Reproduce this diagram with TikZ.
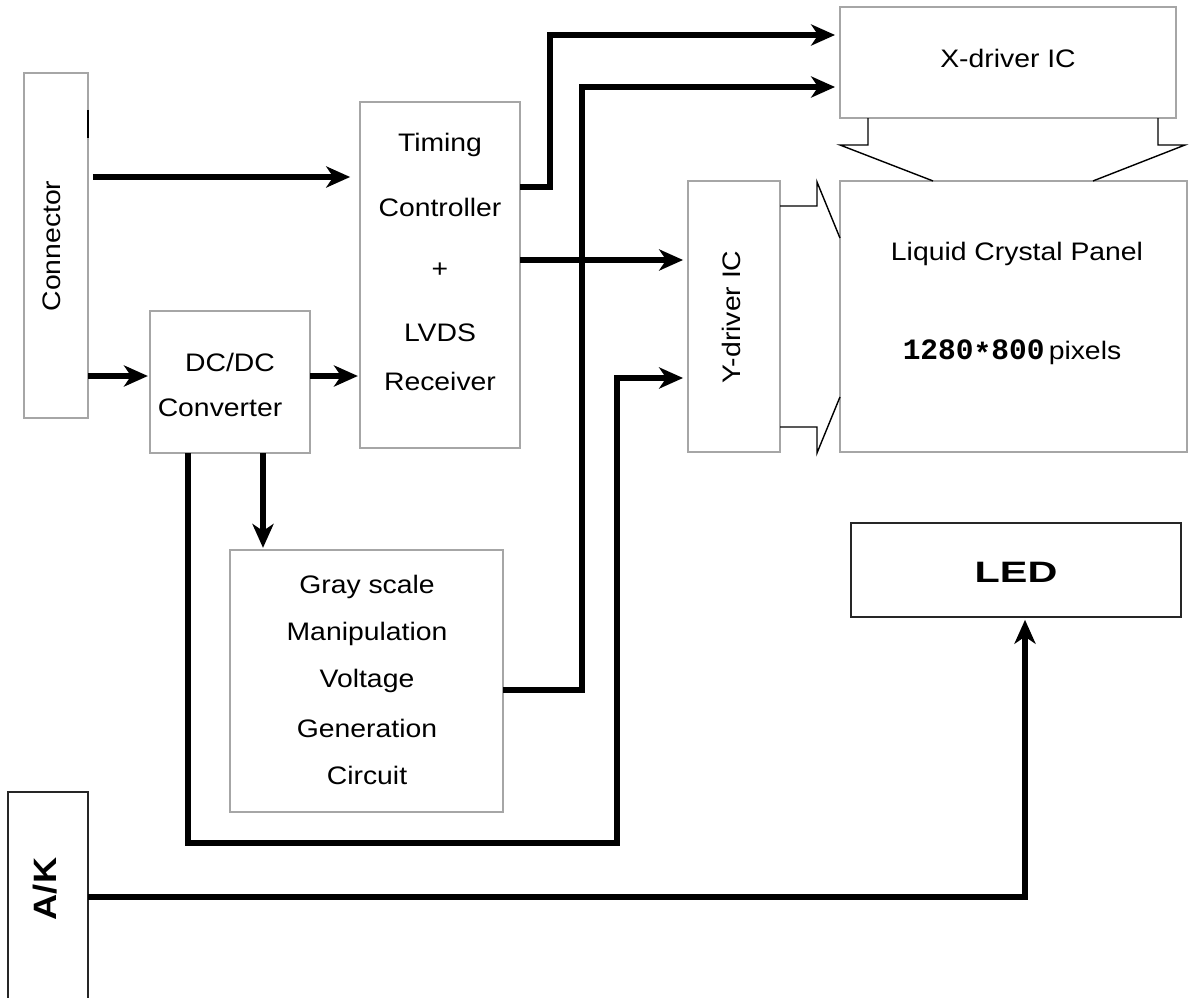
\documentclass[tikz,border=0pt]{standalone}
\usepackage{fontspec}
\setmainfont{Liberation Sans}[FakeStretch=1.12]
\newfontfamily\pixfont{Liberation Mono}
\usetikzlibrary{arrows.meta}

\tikzset{
  blk/.style={draw=gray!70, line width=1.1pt, inner sep=0pt, outer sep=0pt},
  darkblk/.style={draw=black!85, line width=1pt, inner sep=0pt, outer sep=0pt},
  txt/.style={inner sep=0pt, font=\fontsize{18pt}{22pt}\selectfont},
  sig/.style={line width=4.2pt, -{Stealth[length=17pt,width=15pt,inset=5pt]}},
  lead/.style={line width=1pt}
}

\begin{document}
\begin{tikzpicture}[x=0.025cm, y=-0.025cm]
  \useasboundingbox (0,0) rectangle (1189,998);

  %blocos
  \node[blk, minimum width=1.6cm, minimum height=8.625cm] (conn) at (56,245.5) {};
  \node[blk, minimum width=4cm, minimum height=8.65cm] (tcon) at (440,275) {};
  \node[blk, minimum width=4cm, minimum height=3.55cm] (dcdc) at (230,382) {};
  \node[blk, minimum width=6.825cm, minimum height=6.55cm] (gray) at (366.5,681) {};
  \node[blk, minimum width=8.4cm, minimum height=2.775cm] (xdrv) at (1008,62.5) {};
  \node[blk, minimum width=2.3cm, minimum height=6.775cm] (ydrv) at (734,316.5) {};
  \node[blk, minimum width=8.675cm, minimum height=6.775cm] (panel) at (1013.5,316.5) {};
  \node[darkblk, minimum width=8.25cm, minimum height=2.35cm] (led) at (1016,570) {};
  \node[darkblk, minimum width=2cm, minimum height=5.3cm] (ak) at (48,898) {};

  %textos
  \node[txt, rotate=90] (connT) at (52,246) {Connector};
  \node[txt] (tconA) at (440,145) {Timing};
  \node[txt] (tconB) at (440,207) {Controller};
  \node[txt] (tconC) at (440,270) {+};
  \node[txt] (tconD) at (440,333) {LVDS};
  \node[txt] (tconE) at (440,381) {Receiver};
  \node[txt] (dcdcA) at (230,362) {DC/DC};
  \node[txt] (dcdcB) at (220,408) {Converter};
  \node[txt] (grayA) at (367,587) {Gray scale};
  \node[txt] (grayB) at (367,634) {Manipulation};
  \node[txt] (grayC) at (367,681) {Voltage};
  \node[txt] (grayD) at (367,728) {Generation};
  \node[txt] (grayE) at (367,775) {Circuit};
  \node[txt] (xdrvT) at (1008,58) {X-driver IC};
  \node[txt, rotate=90] (ydrvT) at (731,317) {Y-driver IC};
  \node[txt] (panelA) at (1017,254) {Liquid Crystal Panel};
  \node[txt] (panelB) at (1012,352) {{\pixfont\bfseries\fontsize{21pt}{22pt}\selectfont 1280\raisebox{-0.3ex}{*}800}\,pixels};
  \node[txt, font=\fontsize{21pt}{24pt}\selectfont\bfseries\addfontfeature{FakeStretch=1.4}] (ledT) at (1016,572) {LED};
  \node[txt, rotate=90, font=\fontsize{23pt}{26pt}\selectfont\bfseries] (akT) at (45,889) {A/K};

  %marca no conector
  \draw[line width=1.5pt] (conn.east |- 0,110) -- (conn.east |- 0,138);

  %ligacoes driver -> painel
  \draw[lead] (868,0 |- xdrv.south) -- (868,145) -- (840,145) -- (933,0 |- panel.north);
  \draw[lead] (1158,0 |- xdrv.south) -- (1158,145) -- (1185,145) -- (1093,0 |- panel.north);
  \draw[lead] (ydrv.east |- 0,206) -- (817,206) -- (817,182) -- (panel.west |- 0,238);
  \draw[lead] (ydrv.east |- 0,427) -- (817,427) -- (817,453) -- (panel.west |- 0,397);

  %setas
  \draw[sig, shorten <=3.5pt, shorten >=7pt] (conn.east |- 0,177) -- (tcon.west |- 0,177);
  \draw[sig, shorten >=1.5pt] (conn.east |- 0,376) -- (dcdc.west |- 0,376);
  \draw[sig, shorten >=1.5pt] (dcdc.east |- 0,376) -- (tcon.west |- 0,376);
  \draw[sig, shorten >=1.5pt] (263,0 |- dcdc.south) -- (263,0 |- gray.north);
  \draw[sig, shorten >=3.5pt] (tcon.east |- 0,187) -- (550,187) -- (550,35) -- (xdrv.west |- 0,35);
  \draw[sig, shorten >=3.5pt] (gray.east |- 0,690) -- (582,690) -- (582,87) -- (xdrv.west |- 0,87);
  \draw[sig, shorten >=3.5pt] (tcon.east |- 0,260) -- (ydrv.west |- 0,260);
  \draw[sig, shorten >=3.5pt] (188,0 |- dcdc.south) -- (188,843) -- (617,843) -- (617,378) -- (ydrv.west |- 0,378);
  \draw[sig, shorten >=2pt] (ak.east |- 0,897) -- (1025,897) -- (1025,0 |- led.south);
\end{tikzpicture}
\end{document}
